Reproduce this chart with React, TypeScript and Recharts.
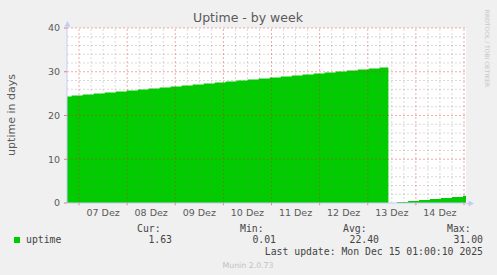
import React from "react";
import { AreaChart, Area, XAxis, YAxis, ReferenceLine } from "recharts";

// hours relative to 07 Dez 00:00
const timeHours = [
  -6, -3.7, 1.8, 7.3, 12.8, 18.3, 23.8, 29.3, 34.7, 40.2, 45.7, 51.2, 56.7, 62.2, 67.7,
  73.1, 78.6, 84.1, 89.6, 95.1, 100.6, 106.1, 111.5, 117.0, 122.5, 128.0, 133.5, 139.0,
  144.5, 149.9, 154.3, 158.6, 164.1, 169.6, 175.0, 180.5, 186.0, 191.5, 193,
];
const uptimeDays = [
  24.33, 24.56, 24.79, 25.02, 25.25, 25.47, 25.7, 25.93, 26.16, 26.39, 26.62, 26.85, 27.08,
  27.31, 27.54, 27.77, 28.0, 28.22, 28.45, 28.68, 28.91, 29.14, 29.37, 29.6, 29.83, 30.06,
  30.29, 30.52, 30.75, 31.0, 0.01, 0.23, 0.46, 0.69, 0.92, 1.15, 1.38, 1.63, 1.63,
];
const dayLabels = ["07 Dez", "08 Dez", "09 Dez", "10 Dez", "11 Dez", "12 Dez", "13 Dez", "14 Dez"];
const dayLabelTicks = [12, 36, 60, 84, 108, 132, 156, 180];
const midnightLines = [0, 24, 48, 72, 96, 120, 144, 168, 192];
const sixHourLines = [6, 12, 18, 30, 36, 42, 54, 60, 66, 78, 84, 90, 102, 108, 114, 126, 132, 138, 150, 156, 162, 174, 180, 186];
const yTicks = [0, 10, 20, 30, 40];
const yMinorLines = [2, 4, 6, 8, 12, 14, 16, 18, 22, 24, 26, 28, 32, 34, 36, 38];
const yMajorLines = [10, 20, 30, 40];

const legendHeaders = ["Cur:", "Min:", "Avg:", "Max:"];
const legendValues = ["1.63", "0.01", "22.40", "31.00"];

const data = timeHours.map((t, i) => ({ t, v: uptimeDays[i] }));

const GREEN = "#00cc00";
const AXIS = "#c4ccf4";
const MINOR = "rgba(120,120,120,0.28)";
const MAJOR = "rgba(220,40,40,0.4)";
const TXT = "#5a5a5a";

export default function App() {
  const headerX = [137, 240, 343, 447];
  const valueEndX = [172, 276, 379, 483];
  return (
    <div style={{ position: "absolute", left: 0, top: 0, width: 497, height: 275, background: "#f0f0f0", overflow: "hidden" }}>
      <div style={{ position: "absolute", left: 67, top: 28, width: 399, height: 175, background: "#ffffff" }} />
      <div style={{ position: "absolute", left: 0, top: 0 }}>
        <AreaChart width={497} height={275} data={data} margin={{ top: 28, right: 31, bottom: 52, left: 7 }}>
          <XAxis
            dataKey="t"
            type="number"
            domain={[-6, 193]}
            allowDataOverflow
            ticks={dayLabelTicks}
            tickFormatter={(v: number) => dayLabels[dayLabelTicks.indexOf(v)] ?? ""}
            tickLine={false}
            tickSize={6}
            tickMargin={0}
            height={20}
            axisLine={{ stroke: AXIS }}
            tick={{ fill: TXT, fontSize: 9.5, fontFamily: "DejaVu Sans" }}
          />
          <YAxis
            type="number"
            domain={[0, 40]}
            ticks={yTicks}
            width={60}
            tickSize={3}
            tickMargin={4}
            tickLine={{ stroke: "#e08080" }}
            axisLine={{ stroke: AXIS }}
            tick={{ fill: TXT, fontSize: 9.5, fontFamily: "DejaVu Sans" }}
          />
          <Area
            type="stepAfter"
            dataKey="v"
            stroke="none"
            fill={GREEN}
            fillOpacity={1}
            isAnimationActive={false}
          />
          {yMinorLines.map((y) => (
            <ReferenceLine key={"ym" + y} y={y} stroke={MINOR} strokeDasharray="2 2" />
          ))}
          {sixHourLines.map((x) => (
            <ReferenceLine key={"xm" + x} x={x} stroke={MINOR} strokeDasharray="2 2" />
          ))}
          {yMajorLines.map((y) => (
            <ReferenceLine key={"yM" + y} y={y} stroke={MAJOR} strokeDasharray="2 2" />
          ))}
          {midnightLines.map((x) => (
            <ReferenceLine key={"xM" + x} x={x} stroke={MAJOR} strokeDasharray="2 2" />
          ))}
          {midnightLines.map((x) => (
            <ReferenceLine
              key={"xt" + x}
              segment={[{ x, y: 0 }, { x, y: -0.5 }]}
              stroke="#e08080"
              ifOverflow="visible"
            />
          ))}
        </AreaChart>
      </div>
      <svg width={497} height={275} style={{ position: "absolute", left: 0, top: 0, pointerEvents: "none" }}>
        <line x1={67.5} y1={28} x2={67.5} y2={23} stroke={AXIS} />
        <polygon points="64.5,26.5 70.5,26.5 67.5,21" fill={AXIS} />
        <line x1={466} y1={203.5} x2={470} y2={203.5} stroke={AXIS} />
        <polygon points="468.5,200.5 468.5,206.5 474,203.5" fill={AXIS} />
        <text x={248} y={22} textAnchor="middle" fontFamily="DejaVu Sans" fontSize={12.5} fill={TXT}>
          Uptime - by week
        </text>
        <text
          x={11}
          y={115}
          textAnchor="middle"
          dominantBaseline="central"
          transform="rotate(-90 11 115)"
          fontFamily="DejaVu Sans"
          fontSize={11}
          fill={TXT}
        >
          uptime in days
        </text>
        <text
          x={487.5}
          y={48.5}
          textAnchor="middle"
          dominantBaseline="central"
          transform="rotate(90 487.5 48.5)"
          fontFamily="DejaVu Sans"
          fontSize={6}
          fill="#c8c8c8"
        >
          RRDTOOL / TOBI OETIKER
        </text>
        <rect x={14} y={237} width={6} height={6} fill={GREEN} />
        <text x={26} y={243} fontFamily="DejaVu Sans Mono" fontSize={9.8} fill="#444">
          uptime
        </text>
        {legendHeaders.map((h, i) => (
          <text key={h} x={headerX[i]} y={232} fontFamily="DejaVu Sans Mono" fontSize={9.8} fill="#444">
            {h}
          </text>
        ))}
        {legendValues.map((v, i) => (
          <text key={i} x={valueEndX[i]} y={243} textAnchor="end" fontFamily="DejaVu Sans Mono" fontSize={9.8} fill="#444">
            {v}
          </text>
        ))}
        <text x={483} y={254.5} textAnchor="end" fontFamily="DejaVu Sans Mono" fontSize={9.8} fill="#444">
          Last update: Mon Dec 15 01:00:10 2025
        </text>
        <text x={248} y={267.5} textAnchor="middle" fontFamily="DejaVu Sans" fontSize={7.8} fill="#c0c0c0">
          Munin 2.0.73
        </text>
      </svg>
    </div>
  );
}
